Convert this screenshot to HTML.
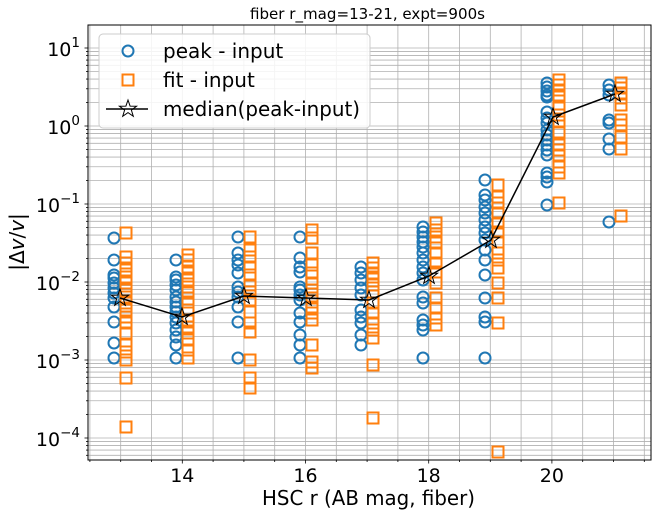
<!DOCTYPE html>
<html><head><meta charset="utf-8"><style>
html,body{margin:0;padding:0;background:#fff;width:653px;height:516px;overflow:hidden}
svg{display:block;font-family:"DejaVu Sans","Liberation Sans",sans-serif}
</style></head><body>
<svg id="s" width="653" height="516" xmlns="http://www.w3.org/2000/svg">
<rect width="653" height="516" fill="#fff"/>
<g id="grid"></g>
<g id="data"></g>
<g id="axes"></g>
<text x="250" y="19" font-size="15" textLength="235" lengthAdjust="spacingAndGlyphs">fiber r_mag=13-21, expt=900s</text>
<text x="262" y="505" font-size="20" textLength="213" lengthAdjust="spacingAndGlyphs">HSC r (AB mag, fiber)</text>
<text transform="translate(24,242) rotate(-90)" font-size="20" text-anchor="middle">|Δ<tspan font-style="italic">v</tspan>/<tspan font-style="italic">v</tspan>|</text>
<g id="leg">
<rect x="99" y="34" width="271" height="94" rx="4" fill="#fff" fill-opacity="0.85" stroke="#ccc"/>
<circle cx="128" cy="51" r="5.5" fill="none" stroke="#1f77b4" stroke-width="2"/>
<rect x="122.5" y="74.5" width="11" height="11" fill="none" stroke="#ff7f0e" stroke-width="2"/>
<line x1="106" y1="109" x2="148" y2="109" stroke="#000" stroke-width="1.5"/>
<text x="163" y="58" font-size="20">peak - input</text>
<text x="163" y="87" font-size="20">fit - input</text>
<text x="163" y="116" font-size="20" textLength="197" lengthAdjust="spacingAndGlyphs">median(peak-input)</text>
</g>
</svg>
<script>
const NS="http://www.w3.org/2000/svg";
const L=88,R=651,T=25,B=460;
const X=v=>120.7+(v-13)*61.6, Y=v=>126-78*Math.log10(v);
function el(p,t,a){const e=document.createElementNS(NS,t);for(const k in a)e.setAttribute(k,a[k]);document.getElementById(p).appendChild(e);return e;}
for(let v=12.5;v<=21.6;v+=0.5){const x=X(v);if(x<L||x>R)continue;el("grid","line",{x1:x,x2:x,y1:T,y2:B,stroke:"#b0b0b0","stroke-width":0.8});
 el("axes","line",{x1:x,x2:x,y1:B,y2:B+(Number.isInteger(v)&&v%2==0?3.5:2),stroke:"#000","stroke-width":0.8});}
for(let d=-5;d<=1;d++)for(let m=1;m<10;m++){const y=Y(m*Math.pow(10,d));if(y<T||y>B)continue;
 el("grid","line",{x1:L,x2:R,y1:y,y2:y,stroke:"#b0b0b0","stroke-width":0.8});
 el("axes","line",{x1:L,x2:L-(m==1?3.5:2),y1:y,y2:y,stroke:"#000","stroke-width":0.8});}
el("axes","rect",{x:L,y:T,width:R-L,height:B-T,fill:"none",stroke:"#000","stroke-width":1});
[14,16,18,20].forEach(v=>{const t=el("axes","text",{x:X(v),y:482,"font-size":19,"text-anchor":"middle"});t.textContent=v;});
[1,0,-1,-2,-3,-4].forEach(d=>{const t=el("axes","text",{x:80,y:Y(Math.pow(10,d))+8,"font-size":19,"text-anchor":"end"});
 t.innerHTML='10<tspan dy="-9" font-size="13.5">'+(d<0?'−'+(-d):d)+'</tspan>';});
const G=[
[114,126,[238,260,275,278,283,288,293,298,307,322,343,358],[233,257,263,270,277,283,290,297,303,310,317,323,333,345,352,360,378,427]],
[176,188,[260,277,280,285,290,297,302,307,312,317,323,330,337,345,358],[255,260,267,273,280,287,293,302,310,320,327,333,340,350,358]],
[238,250,[237,253,260,265,273,287,292,297,307,322,358],[237,250,257,267,275,285,292,300,312,323,332,360,378,388]],
[300,312,[237,258,267,272,287,290,295,300,313,322,335,345,358],[230,238,253,265,273,283,290,298,307,313,320,345,362,368]],
[361,373,[267,273,280,288,295,310,317,323,335,345],[263,268,273,277,285,292,303,313,323,330,338,365,418]],
[423,436,[227,232,237,242,247,253,260,267,273,280,297,303,320,325,330,358],[223,230,237,243,253,263,272,283,298,308,318,325]],
[485,498,[180,195,200,207,213,220,227,233,240,250,260,275,298,317,322,358],[185,197,203,213,223,232,242,253,260,268,283,298,323,452]],
[547,559,[83,87,91,95,97,112,118,123,130,135,140,145,150,155,173,177,182,205],[80,85,90,95,97,108,115,122,132,145,150,155,167,173,203]],
[609,621,[85,90,95,120,123,139,149,222],[83,88,93,98,105,120,125,137,149,216]]];
G.forEach(g=>{g[2].forEach(y=>el("data","circle",{cx:g[0],cy:y,r:5.5,fill:"none",stroke:"#1f77b4","stroke-width":2}));
 g[3].forEach(y=>el("data","rect",{x:g[1]-5.5,y:y-5.5,width:11,height:11,fill:"none",stroke:"#ff7f0e","stroke-width":2}));});
const M=[[120,298],[182,317],[244,296],[306,298],[369,300],[429,276],[491,240],[553,117],[615,94]];
el("data","polyline",{points:M.map(p=>p.join(",")).join(" "),fill:"none",stroke:"#000","stroke-width":1.5});
function star(cx,cy,r,p){let pts=[];for(let i=0;i<10;i++){const a=-Math.PI/2+i*Math.PI/5,rr=i%2?r*0.4:r;pts.push((cx+rr*Math.cos(a)).toFixed(1)+","+(cy+rr*Math.sin(a)).toFixed(1));}
 el(p,"polygon",{points:pts.join(" "),fill:"none",stroke:"#000","stroke-width":1});}
M.forEach(p=>star(p[0],p[1],9,"data"));
star(128,109,9,"leg");
</script>
</body></html>
